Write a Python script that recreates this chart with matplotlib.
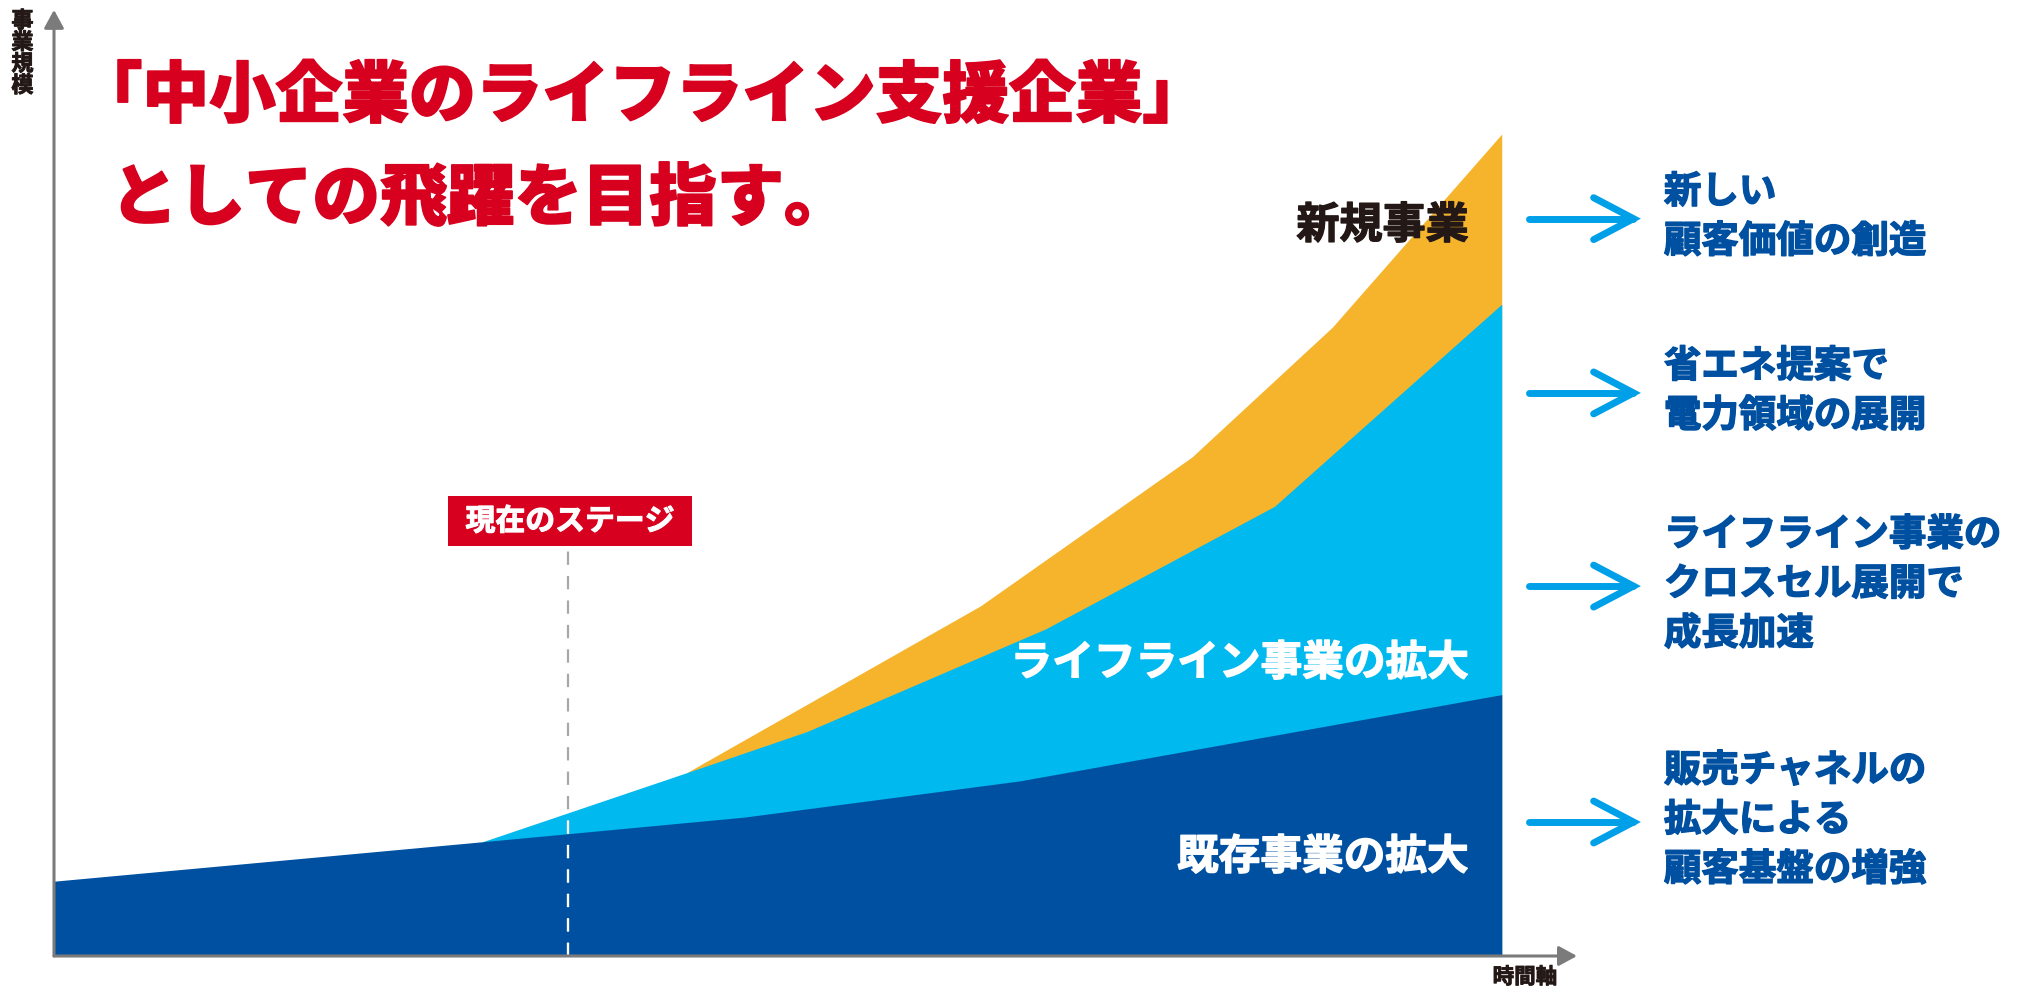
import matplotlib
matplotlib.use('Agg')
from matplotlib import pyplot as plt
from matplotlib.patches import Rectangle
import matplotlib.patheffects as pe

plt.rcParams['font.family'] = ['Noto Sans CJK JP', 'DejaVu Sans']

# 既存事業 / ライフライン事業 / 新規事業 (累積の上端)
base_x = [0, 29.6, 47.7, 66.7, 100]
base_y = [9.1, 13.9, 16.9, 21.3, 31.8]
life_x = [29.6, 43.7, 52.0, 68.5, 84.3, 100]
life_y = [13.9, 22.3, 27.3, 39.8, 54.7, 79.3]
new_x = [43.7, 64.0, 78.6, 88.3, 100]
new_y = [22.3, 42.6, 60.7, 76.5, 100]

area_labels = ['既存事業の拡大', 'ライフライン事業の拡大', '新規事業']
strategy = ['販売チャネルの\n拡大による\n顧客基盤の増強',
            'ライフライン事業の\nクロスセル展開で\n成長加速',
            '省エネ提案で\n電力領域の展開',
            '新しい\n顧客価値の創造']
title1 = '「中小企業のライフライン支援企業」'
title2 = 'としての飛躍を目指す。'
stage_x = 35.5

c_dark = '#0050a1'
c_light = '#00b9ef'
c_orange = '#f6b42d'
c_red = '#d7001e'
c_arrow = '#00a0e9'
c_ink = '#231815'
c_gray = '#7b7b7b'


def heavy(c, w=1.0):
    # 太字をもう少し太く見せる
    return [pe.withStroke(linewidth=w, foreground=c)]


fig = plt.figure(figsize=(20.2, 9.92), dpi=100)
ax = fig.add_axes([0, 0, 1, 1])
ax.set_xlim(-3.73, 135.8)
ax.set_ylim(-4.38, 116.3)
ax.axis('off')

ax.fill_between(new_x, 0, new_y, color=c_orange, lw=0, zorder=1)
lp = ax.fill_between(life_x, 0, life_y, color=c_light, lw=0, zorder=2)
ax.fill_between(base_x, 0, base_y, color=c_dark, lw=0, zorder=3)

# 現在のステージ
ax.plot([stage_x, stage_x], [0, 49.9], color='#a8a8a8', lw=1.6,
        dashes=(6, 5), zorder=4)
wl, = ax.plot([stage_x, stage_x], [0, 49.9], color='white', lw=1.6,
              dashes=(6, 5), zorder=5)
wl.set_clip_path(lp.get_paths()[0], ax.transData)
ax.add_patch(Rectangle((27.2, 49.9), 16.9, 6.1, color=c_red, lw=0, zorder=6))
ax.text(35.65, 52.9, '現在のステージ', color='white', fontsize=21.5,
        fontweight='bold', ha='center', va='center', zorder=7,
        path_effects=heavy('white', 0.8))

# 軸
ax.annotate('', xy=(105.2, 0), xytext=(0, 0), zorder=8,
            arrowprops=dict(arrowstyle='-|>,head_length=0.55,head_width=0.3',
                            mutation_scale=20, lw=2.2, color=c_gray,
                            shrinkA=0, shrinkB=0))
ax.annotate('', xy=(0, 115.1), xytext=(0, 0), zorder=8,
            arrowprops=dict(arrowstyle='-|>,head_length=0.55,head_width=0.3',
                            mutation_scale=20, lw=2.2, color=c_gray,
                            shrinkA=0, shrinkB=0))
ax.text(-2.18, 109.8, '事\n業\n規\n模', color=c_ink, fontsize=16,
        fontweight='bold', ha='center', va='center', linespacing=0.92,
        path_effects=heavy(c_ink, 0.6))
ax.text(101.6, -2.55, '時間軸', color=c_ink, fontsize=15.5,
        fontweight='bold', ha='center', va='center',
        path_effects=heavy(c_ink, 0.6))

# タイトル
ax.text(1.5, 104.5, title1, color=c_red, fontsize=48, fontweight='black',
        ha='left', va='center', path_effects=heavy(c_red, 1.2))
ax.text(3.9, 92.0, title2, color=c_red, fontsize=48.5, fontweight='black',
        ha='left', va='center', path_effects=heavy(c_red, 1.2))

# 領域ラベル
ax.text(97.7, 12.0, area_labels[0], color='white', fontsize=30,
        fontweight='bold', ha='right', va='center', zorder=9,
        path_effects=heavy('white', 1.0))
ax.text(97.7, 35.6, area_labels[1], color='white', fontsize=30,
        fontweight='bold', ha='right', va='center', zorder=9,
        path_effects=heavy('white', 1.0))
ax.text(97.7, 88.9, area_labels[2], color=c_ink, fontsize=31,
        fontweight='bold', ha='right', va='center', zorder=9,
        path_effects=heavy(c_ink, 1.0))

# 右側の矢印と説明
arrow_y = [16.3, 45.0, 68.5, 89.7]
for ay, txt in zip(arrow_y, strategy):
    ax.plot([101.9, 109.1], [ay, ay], color=c_arrow, lw=5,
            solid_capstyle='round')
    ax.plot([106.35, 109.1, 106.35], [ay + 2.55, ay, ay - 2.55],
            color=c_arrow, lw=5, solid_capstyle='round',
            solid_joinstyle='miter')
    ax.text(111.2, ay + 0.3, txt, color=c_dark, fontsize=27, fontweight='bold',
            ha='left', va='center', linespacing=1.34,
            path_effects=heavy(c_dark, 1.0))

fig.savefig('out.png', dpi=100)
